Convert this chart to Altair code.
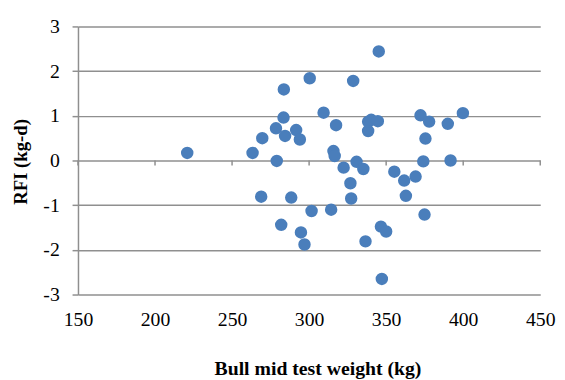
import altair as alt
import pandas as pd

# Bull mid test weight (kg)
weight = [220.9, 263.3, 269.6, 268.9, 278.5, 279.0, 281.9, 283.6, 283.4, 284.4,
          291.6, 294.0, 288.4, 294.7, 297.0, 300.4, 301.6, 309.4, 317.5, 315.8,
          316.6, 314.3, 322.4, 328.6, 326.8, 327.3, 330.8, 335.2, 336.6, 338.3,
          338.3, 340.3, 344.6, 345.2, 346.6, 350.0, 347.2, 355.3, 361.7, 369.1,
          362.8, 372.3, 377.9, 375.5, 374.1, 374.9, 390.0, 391.8, 399.8]
# RFI (kg-d)
rfi = [0.17, 0.17, 0.50, -0.81, 0.72, -0.01, -1.44, 1.59, 0.96, 0.55,
       0.68, 0.47, -0.83, -1.61, -1.88, 1.84, -1.13, 1.07, 0.79, 0.21,
       0.10, -1.10, -0.16, 1.78, -0.51, -0.85, -0.03, -0.19, -1.81, 0.66,
       0.87, 0.91, 0.88, 2.44, -1.48, -1.59, -2.65, -0.25, -0.45, -0.36,
       -0.79, 1.01, 0.87, 0.49, -0.02, -1.21, 0.82, 0.00, 1.06]

x_ticks = [150, 200, 250, 300, 350, 400, 450]
y_ticks = [-3, -2, -1, 0, 1, 2, 3]

df = pd.DataFrame({"weight": weight, "rfi": rfi})
tick_df = pd.DataFrame({"weight": x_ticks, "rfi": [0] * len(x_ticks)})

FONT = "Liberation Serif"
GRAY = "#8f8f8f"
W, H = 469, 272

xscale = alt.Scale(domain=[150, 450], nice=False, zero=False)
yscale = alt.Scale(domain=[-3, 3], nice=False)

y_axis = alt.Axis(values=y_ticks, title="RFI (kg-d)",
                  domain=True, domainColor=GRAY, domainWidth=1.5,
                  ticks=True, tickColor=GRAY, tickWidth=1.5, tickSize=6,
                  grid=True, gridColor=GRAY, gridWidth=1.5, gridOpacity=1,
                  labelFont=FONT, labelFontSize=20, labelColor="black",
                  labelExpr="datum.value", labelAlign="right",
                  labelPadding=13, labelFlush=False, labelOverlap=False,
                  titleFont=FONT, titleFontSize=19, titleFontWeight="bold",
                  titleColor="black", titleAngle=270,
                  titleBaseline="alphabetic", titleAlign="center",
                  titleX=-52, titleY=137)

x_axis = alt.Axis(orient="bottom", values=x_ticks,
                  title="Bull mid test weight (kg)",
                  ticks=False, tickSize=0, domain=False, grid=False,
                  labelFont=FONT, labelFontSize=20, labelColor="black",
                  labelExpr="datum.value",
                  labelBaseline="alphabetic", labelPadding=31,
                  labelFlush=False, labelOverlap=False,
                  titleFont=FONT, titleFontSize=20, titleFontWeight="bold",
                  titleColor="black", titleBaseline="alphabetic",
                  titleX=243, titleY=81, titleAlign="center")

points = alt.Chart(df).mark_circle(size=160, color="#4a7ebb", opacity=1).encode(
    x=alt.X("weight:Q", scale=xscale, axis=x_axis),
    y=alt.Y("rfi:Q", scale=yscale, axis=y_axis),
)

zero_ticks = alt.Chart(tick_df).mark_tick(
    orient="vertical", size=5, thickness=1.5, color=GRAY, opacity=1, yOffset=2.5
).encode(
    x=alt.X("weight:Q", scale=xscale),
    y=alt.Y("rfi:Q", scale=yscale),
)

chart = alt.layer(zero_ticks, points).properties(
    width=W, height=H,
    autosize=alt.AutoSizeParams(type="none"),
    padding={"left": 71, "top": 16, "right": 17, "bottom": 84},
).configure_view(stroke=None)

chart.save("out.html", embed_options={"renderer": "svg", "actions": False})
